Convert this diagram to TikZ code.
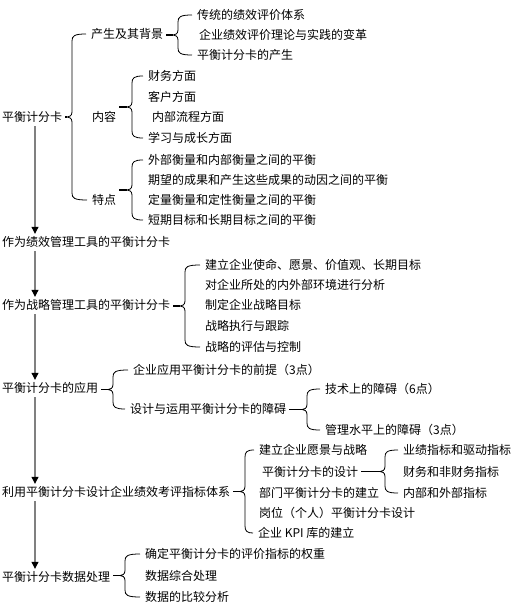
\documentclass[tikz,border=0pt]{standalone}
\usepackage{fontspec}
\newfontfamily\cjk{Noto Sans CJK SC}
\usetikzlibrary{arrows.meta,calc}
\tikzset{
  lbl/.style={anchor=west, inner sep=0pt, text height=10.5pt, text depth=1.5pt,
              font=\cjk\fontsize{12}{12}\selectfont},
  arr/.style={draw=gray, line width=1.1pt, -{Triangle[black,length=7pt,width=7pt]}},
  bline/.style={draw=black, line width=0.8pt},
  bdash/.style={draw=black, line width=1.8pt},
}
\newcommand\bracegroup[4]{%
  \draw[bdash] let \p1=(#1.east), \p4=($(#2.west)!.5!(#3.west)$) in
     (\x1+3pt,\y4) -- (#4pt-5pt,\y4);
  \draw[bline] let \p2=(#2.west), \p3=(#3.west), \p4=($(#2.west)!.5!(#3.west)$) in
    (\x2-5pt,\y2) .. controls (#4pt+2pt,\y2) and (#4pt,\y2-2pt) .. (#4pt,\y2-7pt)
    -- (#4pt,\y4+5pt) .. controls (#4pt,\y4+1pt) and (#4pt-3pt,\y4) .. (#4pt-5pt,\y4)
    .. controls (#4pt-3pt,\y4) and (#4pt,\y4-1pt) .. (#4pt,\y4-5pt)
    -- (#4pt,\y3+7pt) .. controls (#4pt,\y3+2pt) and (#4pt+2pt,\y3) .. (\x3-5pt,\y3);
}
\begin{document}
\begin{tikzpicture}[x=1pt,y=-1pt]
\fill[white] (0,0) rectangle (514,608);
\useasboundingbox (0,0) rectangle (514,608);
\coordinate (spine) at (35,0);

\node[lbl] (root) at (2,117) {平衡计分卡};
\node[lbl] (a1) at (91,34) {产生及其背景};
\node[lbl] (a11) at (197,15) {传统的绩效评价体系};
\node[lbl] (a12) at (199,35) {企业绩效评价理论与实践的变革};
\node[lbl] (a13) at (197,55) {平衡计分卡的产生};
\node[lbl] (a2) at (92,117) {内容};
\node[lbl] (a21) at (148,76) {财务方面};
\node[lbl] (a22) at (148,97) {客户方面};
\node[lbl] (a23) at (152,117) {内部流程方面};
\node[lbl] (a24) at (148,138) {学习与成长方面};
\node[lbl] (a3) at (92,200) {特点};
\node[lbl] (a31) at (148,160) {外部衡量和内部衡量之间的平衡};
\node[lbl] (a32) at (148,180) {期望的成果和产生这些成果的动因之间的平衡};
\node[lbl] (a33) at (148,200) {定量衡量和定性衡量之间的平衡};
\node[lbl] (a34) at (148,220) {短期目标和长期目标之间的平衡};

\node[lbl] (b) at (2,242) {作为绩效管理工具的平衡计分卡};

\node[lbl] (c) at (2,305) {作为战略管理工具的平衡计分卡};
\node[lbl] (c1) at (205,265) {建立企业使命、愿景、价值观、长期目标};
\node[lbl] (c2) at (205,285) {对企业所处的内外部环境进行分析};
\node[lbl] (c3) at (205,305) {制定企业战略目标};
\node[lbl] (c4) at (205,326) {战略执行与跟踪};
\node[lbl] (c5) at (205,347) {战略的评估与控制};

\node[lbl] (d) at (2,388) {平衡计分卡的应用};
\node[lbl] (d1) at (133,370) {企业应用平衡计分卡的前提（3点）};
\node[lbl] (d2) at (130,409) {设计与运用平衡计分卡的障碍};
\node[lbl] (d21) at (325,389) {技术上的障碍（6点）};
\node[lbl] (d22) at (325,430) {管理水平上的障碍（3点）};

\node[lbl] (e) at (2,492) {利用平衡计分卡设计企业绩效考评指标体系};
\node[lbl] (e1) at (259,450) {建立企业愿景与战略};
\node[lbl] (e2) at (262,472) {平衡计分卡的设计};
\node[lbl] (e3) at (259,493) {部门平衡计分卡的建立};
\node[lbl] (e4) at (259,513) {岗位（个人）平衡计分卡设计};
\node[lbl] (e5) at (258,533) {企业 KPI 库的建立};
\node[lbl] (e21) at (403,450) {业绩指标和驱动指标};
\node[lbl] (e22) at (403,472) {财务和非财务指标};
\node[lbl] (e23) at (403,493) {内部和外部指标};

\node[lbl] (f) at (2,577) {平衡计分卡数据处理};
\node[lbl] (f1) at (145,554) {确定平衡计分卡的评价指标的权重};
\node[lbl] (f2) at (145,576) {数据综合处理};
\node[lbl] (f3) at (145,597) {数据的比较分析};

\bracegroup{root}{a1}{a3}{72}
\bracegroup{a1}{a11}{a13}{178}
\bracegroup{a2}{a21}{a24}{132}
\bracegroup{a3}{a31}{a34}{132}
\bracegroup{c}{c1}{c5}{185}
\bracegroup{d}{d1}{d2}{113}
\bracegroup{d2}{d21}{d22}{307}
\bracegroup{e}{e1}{e5}{245}
\bracegroup{e2}{e21}{e23}{385}
\bracegroup{f}{f1}{f3}{125}

\draw[arr] ([yshift=-3pt]root.south -| spine) -- ([yshift=2pt]b.north -| spine);
\draw[arr] ([yshift=-3pt]b.south -| spine) -- ([yshift=2pt]c.north -| spine);
\draw[arr] ([yshift=-3pt]c.south -| spine) -- ([yshift=2pt]d.north -| spine);
\draw[arr] ([yshift=-3pt]d.south -| spine) -- ([yshift=2pt]e.north -| spine);
\draw[arr] ([yshift=-3pt]e.south -| spine) -- ([yshift=2pt]f.north -| spine);
\end{tikzpicture}
\end{document}
